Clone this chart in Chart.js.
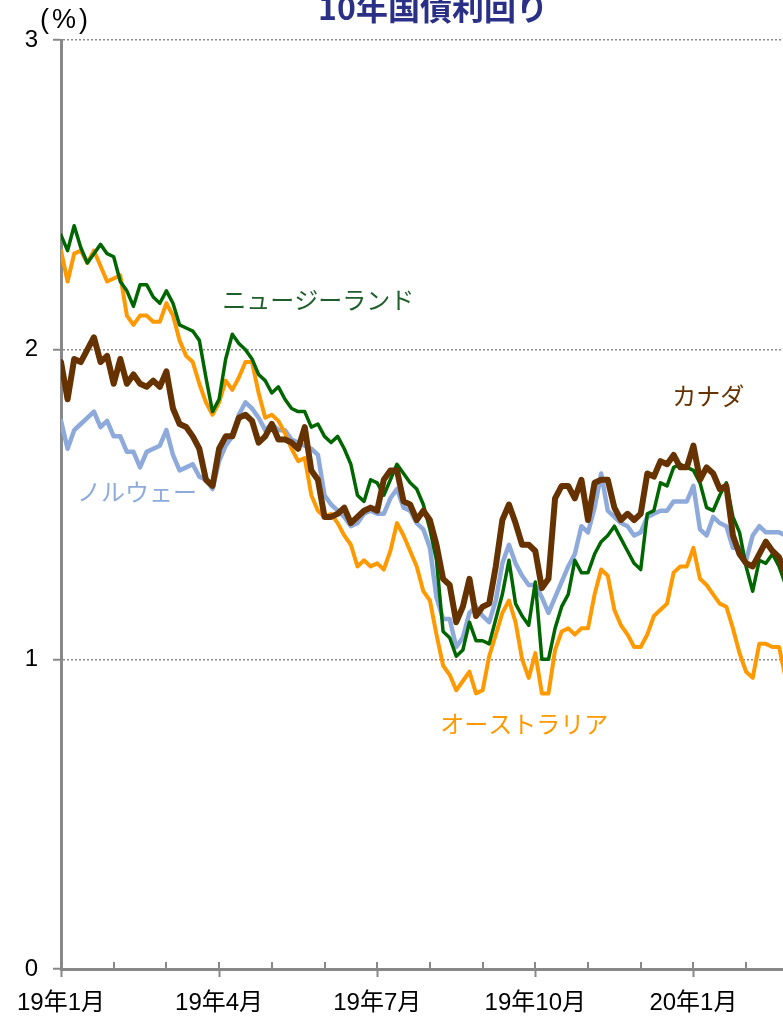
<!DOCTYPE html>
<html lang="ja">
<head>
<meta charset="utf-8">
<title>10年国債利回り</title>
<script src="https://cdn.jsdelivr.net/npm/chart.js@4.4.1/dist/chart.umd.min.js"></script>
<style>
  html, body { margin: 0; padding: 0; background: #fff; }
  canvas { display: block; }
</style>
</head>
<body>
<canvas id="yieldChart" width="783" height="1017"></canvas>
<script>
// one sample every 1/8 month, starting 2019-01
const STEP = 1 / 8;

// x axis: months since 19年1月
const xMonths = [0, 1, 2, 3, 4, 5, 6, 7, 8, 9, 10, 11, 12, 13];
const xTickMonths = [0, 3, 6, 9, 12];
const xTickLabels = ['19年1月', '19年4月', '19年7月', '19年10月', '20年1月'];
const yTicks = [0, 1, 2, 3];

// 10y yields (%)
const nz = [
  2.37, 2.32, 2.40, 2.33, 2.28, 2.31, 2.34, 2.31, 2.30, 2.22,
  2.19, 2.14, 2.21, 2.21, 2.17, 2.15, 2.19, 2.15, 2.08, 2.07,
  2.06, 2.03, 1.91, 1.80, 1.84, 1.97, 2.05, 2.02, 2.00, 1.97,
  1.92, 1.90, 1.86, 1.88, 1.84, 1.81, 1.80, 1.80, 1.75, 1.76,
  1.72, 1.70, 1.72, 1.68, 1.63, 1.53, 1.51, 1.58, 1.57, 1.53,
  1.58, 1.63, 1.60, 1.57, 1.55, 1.50, 1.42, 1.32, 1.09, 1.07,
  1.01, 1.03, 1.12, 1.06, 1.06, 1.05, 1.13, 1.21, 1.32, 1.18,
  1.14, 1.11, 1.25, 1.00, 1.00, 1.10, 1.17, 1.21, 1.32, 1.28,
  1.28, 1.34, 1.38, 1.40, 1.43, 1.39, 1.35, 1.31, 1.29, 1.47,
  1.48, 1.57, 1.56, 1.62, 1.63, 1.62, 1.61, 1.57, 1.49, 1.48,
  1.53, 1.57, 1.46, 1.41, 1.30, 1.22, 1.32, 1.31, 1.34, 1.30, 1.24
];
const au = [
  2.32, 2.22, 2.31, 2.32, 2.28, 2.32, 2.27, 2.22, 2.23, 2.24,
  2.11, 2.08, 2.11, 2.11, 2.09, 2.09, 2.15, 2.11, 2.03, 1.98,
  1.96, 1.89, 1.83, 1.79, 1.83, 1.90, 1.87, 1.91, 1.96, 1.96,
  1.86, 1.78, 1.79, 1.77, 1.73, 1.68, 1.64, 1.65, 1.53, 1.48,
  1.46, 1.47, 1.44, 1.40, 1.37, 1.30, 1.32, 1.30, 1.31, 1.29,
  1.35, 1.44, 1.40, 1.35, 1.30, 1.22, 1.19, 1.08, 0.98, 0.95,
  0.90, 0.93, 0.96, 0.89, 0.90, 1.01, 1.08, 1.15, 1.19, 1.12,
  1.00, 0.94, 1.02, 0.89, 0.89, 1.03, 1.09, 1.10, 1.08, 1.10,
  1.10, 1.21, 1.29, 1.27, 1.16, 1.11, 1.08, 1.04, 1.04, 1.08,
  1.14, 1.16, 1.18, 1.28, 1.30, 1.30, 1.36, 1.26, 1.24, 1.21,
  1.18, 1.17, 1.10, 1.02, 0.96, 0.94, 1.05, 1.05, 1.04, 1.04, 0.94
];
const ca = [
  1.96, 1.84, 1.97, 1.96, 2.00, 2.04, 1.96, 1.98, 1.89, 1.97,
  1.89, 1.92, 1.89, 1.88, 1.90, 1.88, 1.93, 1.81, 1.76, 1.75,
  1.72, 1.68, 1.58, 1.56, 1.68, 1.72, 1.72, 1.78, 1.79, 1.77,
  1.70, 1.72, 1.76, 1.71, 1.71, 1.70, 1.68, 1.75, 1.61, 1.58,
  1.46, 1.46, 1.47, 1.49, 1.44, 1.46, 1.48, 1.49, 1.48, 1.58,
  1.61, 1.61, 1.51, 1.50, 1.45, 1.48, 1.45, 1.37, 1.26, 1.24,
  1.12, 1.17, 1.26, 1.14, 1.17, 1.18, 1.30, 1.45, 1.50, 1.44,
  1.37, 1.37, 1.35, 1.23, 1.26, 1.52, 1.56, 1.56, 1.52, 1.58,
  1.45, 1.57, 1.58, 1.58, 1.49, 1.45, 1.47, 1.45, 1.47, 1.60,
  1.59, 1.64, 1.63, 1.66, 1.62, 1.62, 1.69, 1.58, 1.62, 1.60,
  1.55, 1.56, 1.40, 1.34, 1.31, 1.30, 1.34, 1.38, 1.35, 1.33, 1.27
];
const no = [
  1.77, 1.68, 1.74, 1.76, 1.78, 1.80, 1.75, 1.77, 1.72, 1.72,
  1.67, 1.67, 1.62, 1.67, 1.68, 1.69, 1.74, 1.66, 1.61, 1.62,
  1.63, 1.59, 1.58, 1.55, 1.64, 1.69, 1.72, 1.79, 1.83, 1.81,
  1.78, 1.74, 1.76, 1.74, 1.74, 1.71, 1.70, 1.69, 1.68, 1.66,
  1.53, 1.50, 1.48, 1.46, 1.43, 1.44, 1.47, 1.48, 1.47, 1.47,
  1.52, 1.55, 1.49, 1.48, 1.44, 1.42, 1.36, 1.20, 1.13, 1.13,
  1.04, 1.07, 1.15, 1.17, 1.14, 1.12, 1.19, 1.31, 1.37, 1.31,
  1.27, 1.24, 1.24, 1.20, 1.15, 1.20, 1.25, 1.30, 1.34, 1.43,
  1.41, 1.49, 1.60, 1.48, 1.46, 1.44, 1.43, 1.40, 1.41, 1.46,
  1.47, 1.48, 1.48, 1.51, 1.51, 1.51, 1.56, 1.42, 1.40, 1.46,
  1.44, 1.43, 1.36, 1.36, 1.32, 1.40, 1.43, 1.41, 1.41, 1.41, 1.40
];

const FONT = "'Liberation Sans', Arial, 'Noto Sans CJK JP', sans-serif";
const JP_FONT = "'Noto Sans CJK JP', 'Liberation Sans', sans-serif";

const toPoints = arr => arr.map((v, i) => ({ x: i * STEP, y: v }));

// in-chart series names, anchored in data space (month, %)
const seriesLabels = [
  { text: 'ニュージーランド', at: [4.88, 2.16], color: '#1e5e2a' },
  { text: 'カナダ', at: [12.28, 1.85], color: '#663300' },
  { text: 'ノルウェー', at: [1.44, 1.54], color: '#8eaadb' },
  { text: 'オーストラリア', at: [8.79, 0.79], color: '#ff9900' }
];

const decor = {
  id: 'decor',
  afterDraw(chart) {
    const { ctx, scales: { x, y }, chartArea } = chart;
    ctx.save();

    // minor month ticks sitting on top of the x axis
    ctx.strokeStyle = '#888';
    ctx.lineWidth = 2;
    xMonths.forEach(m => {
      const px = Math.round(x.getPixelForValue(m));
      ctx.beginPath();
      ctx.moveTo(px, chartArea.bottom - 7);
      ctx.lineTo(px, chartArea.bottom);
      ctx.stroke();
    });

    // title (top is cut off in the original)
    ctx.fillStyle = '#2b3087';
    ctx.font = 'bold 32px ' + JP_FONT;
    ctx.textAlign = 'center';
    ctx.textBaseline = 'middle';
    ctx.fillText('10年国債利回り', 433, 8);

    // unit
    ctx.fillStyle = '#000';
    ctx.font = '27px ' + FONT;
    ctx.textAlign = 'left';
    ctx.letterSpacing = '3px';
    ctx.fillText('(%)', 40, 21);
    ctx.letterSpacing = '0px';

    // series names
    ctx.font = '24px ' + JP_FONT;
    ctx.textAlign = 'center';
    seriesLabels.forEach(l => {
      ctx.fillStyle = l.color;
      ctx.fillText(l.text, x.getPixelForValue(l.at[0]), y.getPixelForValue(l.at[1]));
    });
    ctx.restore();
  }
};

new Chart(document.getElementById('yieldChart'), {
  type: 'line',
  data: {
    datasets: [
      { label: 'カナダ', data: toPoints(ca), borderColor: '#663300', borderWidth: 6, order: 0 },
      { label: 'ニュージーランド', data: toPoints(nz), borderColor: '#006600', borderWidth: 3.5, order: 1 },
      { label: 'オーストラリア', data: toPoints(au), borderColor: '#ff9900', borderWidth: 4, order: 2 },
      { label: 'ノルウェー', data: toPoints(no), borderColor: '#8eaadb', borderWidth: 4.5, order: 3 }
    ]
  },
  options: {
    responsive: false,
    animation: false,
    elements: {
      point: { radius: 0 },
      line: { tension: 0, borderJoinStyle: 'round', borderCapStyle: 'round' }
    },
    layout: { padding: { top: 40, right: 0, left: 0, bottom: 0 } },
    plugins: { legend: { display: false }, tooltip: { enabled: false }, title: { display: false } },
    scales: {
      x: {
        type: 'linear',
        min: 0,
        max: 13.7,
        afterFit: s => { s.height = 48; s.paddingLeft = 0; s.paddingRight = 0; },
        grid: {
          drawOnChartArea: false,
          tickLength: 8,
          tickWidth: 2,
          tickColor: c => xTickMonths.includes(c.tick.value) ? '#888' : 'transparent'
        },
        border: { color: '#888', width: 3 },
        ticks: {
          stepSize: 1,
          autoSkip: false,
          maxRotation: 0,
          padding: 12,
          color: '#000',
          font: { family: FONT, size: 24 },
          callback: v => {
            const k = xTickMonths.indexOf(v);
            return k >= 0 ? xTickLabels[k] : '';
          }
        }
      },
      y: {
        min: 0,
        max: 3,
        afterFit: s => { s.width = 61; s.paddingTop = 0; s.paddingBottom = 0; },
        afterBuildTicks: s => { s.ticks = yTicks.map(v => ({ value: v })); },
        grid: {
          color: c => c.tick && c.tick.value === 0 ? 'transparent' : '#8c8c8c',
          lineWidth: 1.5,
          tickLength: 8,
          tickWidth: 2,
          tickColor: '#888'
        },
        border: { color: '#888', width: 3, dash: [2, 2] },
        ticks: {
          padding: 15,
          color: '#000',
          font: { family: FONT, size: 24 }
        }
      }
    }
  },
  plugins: [decor]
});
</script>
</body>
</html>
